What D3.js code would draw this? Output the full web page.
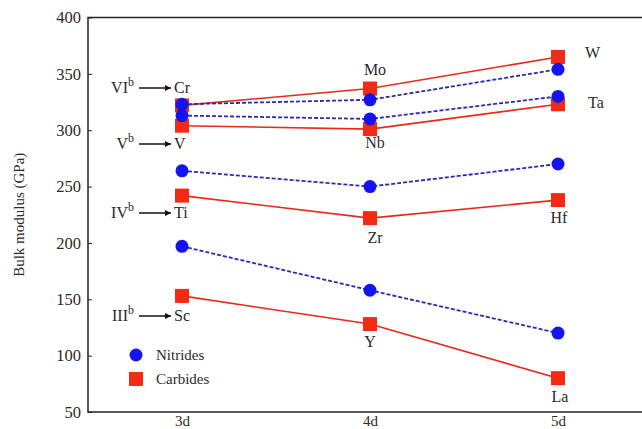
<!DOCTYPE html>
<html>
<head>
<meta charset="utf-8">
<script src="https://cdn.jsdelivr.net/npm/d3@7"></script>
<style>
  body { margin: 0; background: #fff; }
  text { font-family: "Liberation Serif", "DejaVu Serif", serif; fill: #2a2a2a; }
</style>
</head>
<body>
<div id="chart"></div>
<script>
// Data
const rows = ["3d", "4d", "5d"];
const groups = ["III", "IV", "V", "VI"];
const nitrides = {
  III: [197, 158, 120],
  IV:  [264, 250, 270],
  V:   [313, 310, 330],
  VI:  [323, 327, 354]
};
const carbides = {
  III: [153, 128, 80],
  IV:  [242, 222, 238],
  V:   [304, 301, 323],
  VI:  [322, 337, 365]
};
const elements = {
  III: ["Sc", "Y", "La"],
  IV:  ["Ti", "Zr", "Hf"],
  V:   ["V", "Nb", "Ta"],
  VI:  ["Cr", "Mo", "W"]
};
const yTicks = [50, 100, 150, 200, 250, 300, 350, 400];

var width = 642, height = 429;
var margin = {top: 17.5, bottom: 17, left: 88};

var svg = d3.select("#chart").append("svg")
  .attr("width", width).attr("height", height);

var x = d3.scalePoint().domain(rows).range([182, 558]);
var y = d3.scaleLinear().domain([50, 400]).range([height - margin.bottom, margin.top]);

// frame (right side runs off the picture)
svg.append("rect")
  .attr("x", margin.left).attr("y", margin.top)
  .attr("width", width - margin.left + 20).attr("height", y(50) - margin.top)
  .attr("fill", "none").attr("stroke", "#222").attr("stroke-width", 1.5);

// y axis, ticks inward
var yAxis = svg.append("g")
  .attr("transform", "translate(" + margin.left + ",0)")
  .call(d3.axisRight(y).tickValues(yTicks).tickSize(4).tickFormat(d3.format("d")));
yAxis.select(".domain").remove();
yAxis.selectAll("line").attr("stroke", "#222");
yAxis.selectAll("text").attr("x", -7).attr("text-anchor", "end")
  .style("font-size", "16.5px").style("font-family", "Liberation Serif").style("fill", "#2a2a2a");

// x axis labels
var xAxis = svg.append("g")
  .attr("transform", "translate(0," + y(50) + ")")
  .call(d3.axisBottom(x).tickSize(0).tickPadding(3));
xAxis.select(".domain").remove();
xAxis.selectAll("text").style("font-size", "15px").style("font-family", "Liberation Serif")
  .style("fill", "#2a2a2a");

svg.append("text")
  .attr("transform", "translate(24," + ((margin.top + y(50)) / 2) + ") rotate(-90)")
  .attr("text-anchor", "middle").style("font-size", "15px")
  .text("Bulk modulus (GPa)");

var line = d3.line().x((d, i) => x(rows[i])).y(d => y(d));

// carbides underneath
groups.forEach(function(g) {
  svg.append("path").datum(carbides[g])
    .attr("d", line).attr("fill", "none")
    .attr("stroke", "#e8281c").attr("stroke-width", 1.6);
  svg.selectAll(null).data(carbides[g]).enter().append("rect")
    .attr("x", (d, i) => x(rows[i]) - 7).attr("y", d => y(d) - 7)
    .attr("width", 14).attr("height", 14).attr("fill", "#f52a14");
});
groups.forEach(function(g) {
  svg.append("path").datum(nitrides[g])
    .attr("d", line).attr("fill", "none")
    .attr("stroke", "#2a2ab0").attr("stroke-width", 1.8)
    .attr("stroke-dasharray", "4,2");
  svg.selectAll(null).data(nitrides[g]).enter().append("circle")
    .attr("cx", (d, i) => x(rows[i])).attr("cy", d => y(d))
    .attr("r", 6.5).attr("fill", "#1414f0");
});

// arrow marker
svg.append("defs").append("marker")
  .attr("id", "arr").attr("viewBox", "0 0 10 10")
  .attr("refX", 10).attr("refY", 5)
  .attr("markerWidth", 10).attr("markerHeight", 6)
  .attr("markerUnits", "userSpaceOnUse").attr("orient", "auto")
  .append("path").attr("d", "M0,0 L10,5 L0,10 z").attr("fill", "#111");

// group labels with arrows, at the left
var groupY = {VI: 88, V: 144, IV: 213, III: 316};
groups.forEach(function(g) {
  var t = svg.append("text").attr("x", 134).attr("y", groupY[g] + 5)
    .attr("text-anchor", "end").style("font-size", "16px");
  t.append("tspan").text(g);
  t.append("tspan").attr("dy", -7).style("font-size", "12px").text("b");
  svg.append("line")
    .attr("x1", 139).attr("x2", 171).attr("y1", groupY[g]).attr("y2", groupY[g])
    .attr("stroke", "#111").attr("stroke-width", 1.5).attr("marker-end", "url(#arr)");
  svg.append("text").attr("x", 174).attr("y", groupY[g] + 5)
    .style("font-size", "16px").text(elements[g][0]);
});

// element labels at 4d and 5d
var labelPos = {
  Mo: [375, 75], Nb: [375, 148], Zr: [375, 243], Y: [370, 347],
  W: [585, 58], Ta: [588, 108], Hf: [559, 223], La: [560, 402]
};
Object.keys(labelPos).forEach(function(k) {
  svg.append("text").attr("x", labelPos[k][0]).attr("y", labelPos[k][1])
    .attr("text-anchor", k == "W" || k == "Ta" ? "start" : "middle")
    .style("font-size", "16px").text(k);
});

// legend
svg.append("circle").attr("cx", 136).attr("cy", 355).attr("r", 6.5).attr("fill", "#1414f0");
svg.append("text").attr("x", 156).attr("y", 360).style("font-size", "15px").text("Nitrides");
svg.append("rect").attr("x", 129).attr("y", 372).attr("width", 14).attr("height", 14).attr("fill", "#f52a14");
svg.append("text").attr("x", 156).attr("y", 384).style("font-size", "15px").text("Carbides");
</script>
</body>
</html>
